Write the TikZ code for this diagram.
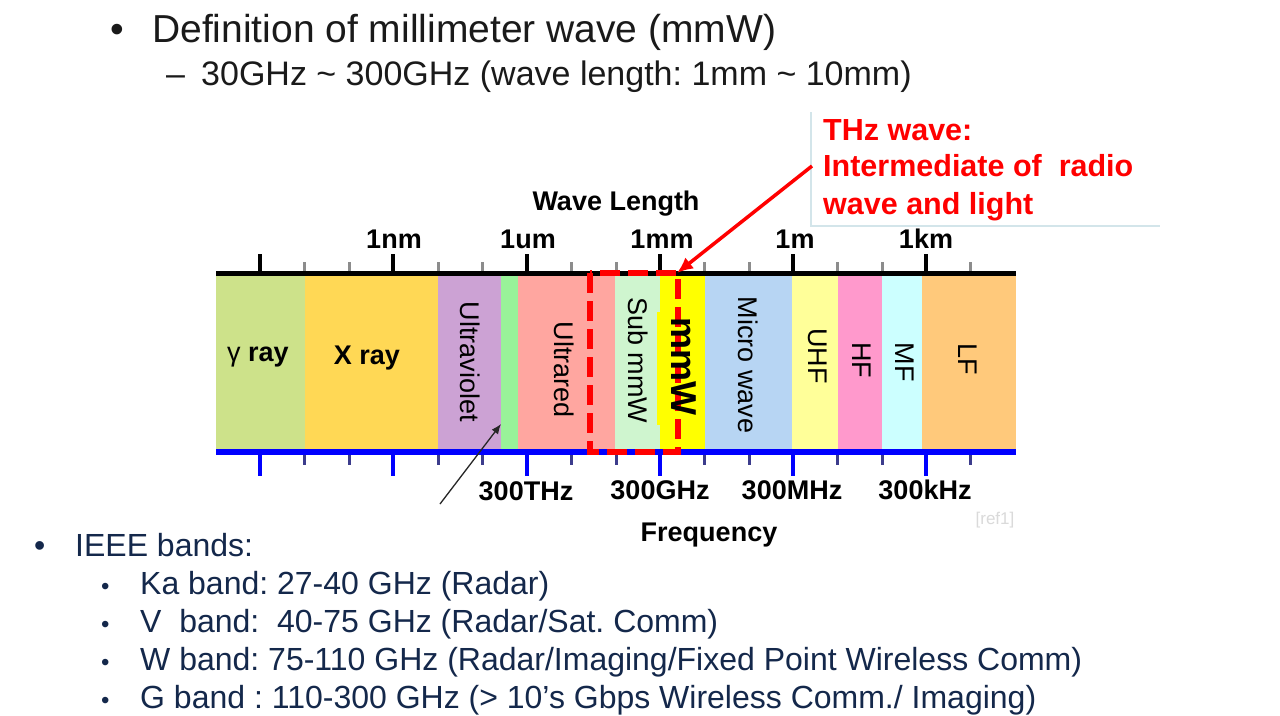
\documentclass[tikz,border=0pt]{standalone}
\usepackage{fontspec}
\setmainfont{Liberation Sans}
\usetikzlibrary{arrows.meta}
\frenchspacing
\definecolor{cGamma}{HTML}{CDE28A}
\definecolor{cXray}{HTML}{FFD855}
\definecolor{cUV}{HTML}{CCA2D4}
\definecolor{cVis}{HTML}{99F299}
\definecolor{cIR}{HTML}{FFA6A0}
\definecolor{cSub}{HTML}{CFF5CF}
\definecolor{cMMW}{HTML}{FFFF00}
\definecolor{cMicro}{HTML}{B7D5F3}
\definecolor{cUHF}{HTML}{FFFF99}
\definecolor{cHF}{HTML}{FF99CC}
\definecolor{cMF}{HTML}{CCFFFF}
\definecolor{cLF}{HTML}{FFC97B}
\definecolor{cNavy}{HTML}{14284B}
\definecolor{cTitle}{HTML}{1A1A1A}
\definecolor{cMinorTop}{HTML}{8C8C8C}
\definecolor{cMinorBot}{HTML}{3C3C8C}
\definecolor{cBoxLine}{HTML}{D3E5EA}
\definecolor{cRef}{HTML}{DADADA}
\tikzset{
  lbl/.style={font=\bfseries\fontsize{27}{30}\selectfont, inner sep=0pt},
  rot/.style={font=\fontsize{27}{30}\selectfont, rotate=-90, inner sep=0pt},
  titletext/.style={anchor=base west, inner sep=0pt, text=cTitle},
  listtext/.style={anchor=base west, inner sep=0pt, text=cNavy, font=\fontsize{32}{36}\selectfont},
  redtext/.style={anchor=base west, inner sep=0pt, text=red, font=\bfseries\fontsize{30.5}{36}\selectfont},
  majtop/.style={line width=3.5pt, black},
  mintop/.style={line width=3pt, cMinorTop},
  majbot/.style={line width=4pt, blue},
  minbot/.style={line width=3pt, cMinorBot},
}
\begin{document}
\begin{tikzpicture}[x=1pt,y=-1pt]
\useasboundingbox (0,0) rectangle (1280,715);
\fill[white] (0,0) rectangle (1280,715);

% title
\node[titletext, font=\fontsize{39}{44}\selectfont] (b1) at (110,42) {•};
\node[titletext, font=\fontsize{39}{44}\selectfont] (title) at (152,42) {Definition of millimeter wave (mmW)};
\node[titletext, font=\fontsize{34}{40}\selectfont] (d1) at (166,85) {–};
\node[titletext, font=\fontsize{34}{40}\selectfont] (sub) at (201,85) {30GHz \textasciitilde\ 300GHz (wave length: 1mm \textasciitilde\ 10mm)};

% bands
\fill[cGamma] (216,276) rectangle (305,449);
\fill[cXray]  (305,276) rectangle (438,449);
\fill[cUV]    (438,276) rectangle (501,449);
\fill[cVis]   (501,276) rectangle (518,449);
\fill[cIR]    (518,276) rectangle (615,449);
\fill[cSub]   (615,276) rectangle (660,449);
\fill[cMMW]   (660,276) rectangle (705,449);
\fill[cMMW]   (657,312) rectangle (705,425);
\fill[cMicro] (705,276) rectangle (792,449);
\fill[cUHF]   (792,276) rectangle (838,449);
\fill[cHF]    (838,276) rectangle (882,449);
\fill[cMF]    (882,276) rectangle (922,449);
\fill[cLF]    (922,276) rectangle (1016,449);

% band labels
\node[lbl] (gamma) at (258,357) {\mdseries γ\bfseries\ ray};
\node[lbl] (xray) at (367,358) {X ray};
\node[rot] (uv) at (470,362) {Ultraviolet};
\node[rot] (ir) at (564,370) {Ultrared};
\node[rot] (subm) at (638,360) {Sub mmW};
\node[rot] (micro) at (748,365) {Micro wave};
\node[rot] (uhf) at (818,356) {UHF};
\node[rot] (hf) at (862,360) {HF};
\node[rot] (mf) at (905,362) {MF};
\node[rot] (lf) at (968,359) {LF};

% top axis
\foreach \x in {304,349,438,482,571,616,704,749,837,882,970}
  \draw[mintop] (\x,273) -- (\x,262);
\foreach \x in {260,393,527,660,793,926}
  \draw[majtop] (\x,273) -- (\x,254);
\draw[line width=5pt] (216,273) -- (1016,273);

% bottom axis
\foreach \x in {304,349,438,482,571,616,704,749,837,882,970}
  \draw[minbot] (\x,452) -- (\x,465);
\foreach \x in {260,393,527,660,793,926}
  \draw[majbot] (\x,452) -- (\x,476);
\draw[blue, line width=6pt] (216,452) -- (1016,452);

% axis labels
\node[lbl] (wl) at (616,204) {Wave Length};
\node[lbl] (l1nm) at (394,239) {1nm};
\node[lbl] (l1um) at (528,239) {1um};
\node[lbl] (l1mm) at (662,239) {1mm};
\node[lbl] (l1m) at (795,239) {1m};
\node[lbl] (l1km) at (926,239) {1km};
\node[lbl] (f1) at (526,491) {300THz};
\node[lbl] (f2) at (660,490) {300GHz};
\node[lbl] (f3) at (792,490) {300MHz};
\node[lbl] (f4) at (925,490) {300kHz};
\node[lbl] (freq) at (709,535) {Frequency};
\node[inner sep=0pt, text=cRef, font=\fontsize{17}{20}\selectfont] (ref) at (995,520) {[ref1]};

% red dashed mmW frame
\draw[red, line width=6pt, dash pattern=on 20pt off 8pt] (590,273) rectangle (678,452);
\node[rot, font=\bfseries\fontsize{36}{40}\selectfont] (mmw) at (684,366) {mmW};

% THz box
\draw[cBoxLine, line width=2.5pt] (811,112) -- (811,226) -- (1160,226);
\node[redtext] (t1) at (823,140) {THz wave:};
\node[redtext] (t2) at (823,176) {Intermediate of \ radio};
\node[redtext] (t3) at (823,214) {wave and light};
\coordinate (thzs) at (812,166);
\coordinate (thze) at (677,273);
\draw[red, line width=3.5pt, -{Latex[length=16pt,width=14pt]}] (thzs) -- (thze);

% visible light pointer
\coordinate (vs) at (440,504);
\coordinate (ve) at (501,424);
\draw[black!85, line width=1.3pt, -{Latex[length=10pt,width=8pt]}] (vs) -- (ve);

% IEEE bands
\node[listtext] (b2) at (34,556) {•};
\node[listtext] (ieee) at (75,556) {IEEE bands:};
\foreach \y/\t [count=\i] in {594/{Ka band: 27-40 GHz (Radar)},632/{V\ \ band:\ \ 40-75 GHz (Radar/Sat. Comm)},670/{W band: 75-110 GHz (Radar/Imaging/Fixed Point Wireless Comm)},708/{G band : 110-300 GHz (> 10’s Gbps Wireless Comm./ Imaging)}}{
  \node[listtext, font=\fontsize{24}{28}\selectfont] (sb\i) at (101,\y) {•};
  \node[listtext] (st\i) at (140,\y) {\t};
}
\end{tikzpicture}
\end{document}
